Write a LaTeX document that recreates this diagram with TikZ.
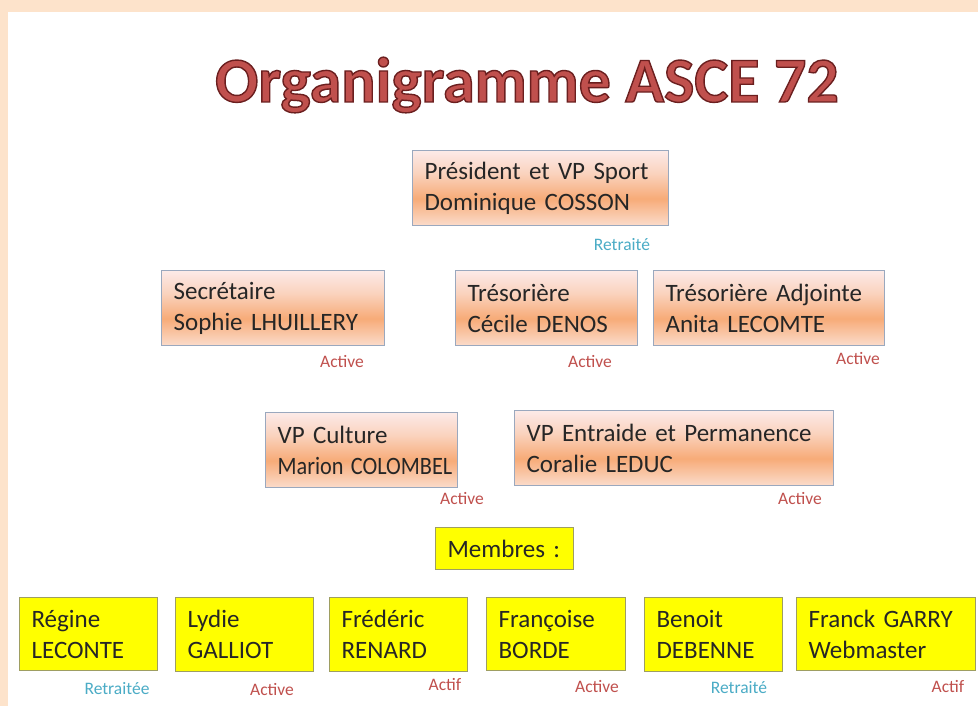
\documentclass[tikz,border=0pt]{standalone}
\usepackage{fontspec}
\setmainfont{Carlito}
\definecolor{peach}{HTML}{FDE3CB}
\definecolor{boxedge}{HTML}{9AA8BE}
\definecolor{otop}{HTML}{FCEAE8}
\definecolor{olight}{HTML}{FAD3BE}
\definecolor{omid}{HTML}{F7AB78}
\definecolor{obot}{HTML}{FBDCCB}
\definecolor{yfill}{HTML}{FFFF00}
\definecolor{yedge}{HTML}{9E9E62}
\definecolor{actred}{HTML}{C0504D}
\definecolor{retblue}{HTML}{4BACC6}
\definecolor{titlered}{HTML}{C0504D}
\pgfdeclareverticalshading{orshade}{100bp}{color(0bp)=(obot); color(25bp)=(obot); color(43bp)=(omid); color(60bp)=(olight); color(75bp)=(otop); color(100bp)=(otop)}
\newcommand{\boxfont}{\fontsize{25}{31}\selectfont}
\newcommand{\statfont}{\fontsize{17.5}{20}\selectfont}
\tikzset{
  obox/.style={draw=boxedge, line width=1.2pt, shading=orshade, anchor=north west, align=left, inner xsep=12pt, inner ysep=0pt, font=\boxfont, text=black!85},
  ybox/.style={draw=yedge, line width=1.2pt, fill=yfill, anchor=north west, align=left, inner xsep=12pt, inner ysep=0pt, font=\boxfont, text=black!85},
  act/.style={text=actred, font=\statfont},
  ret/.style={text=retblue, font=\statfont}
}
\begin{document}
\begin{tikzpicture}[x=1pt,y=-1pt]
\useasboundingbox (0,0) rectangle (978,706);
\fill[peach] (0,0) rectangle (978,706);
\fill[white] (8,12) rectangle (978,706);
% title
\node[anchor=base, font=\fontsize{64}{70}\selectfont\bfseries, text=titlered, inner sep=0pt] (title) at (527,102)
  {\special{pdf:literal direct 0.42 0.12 0.12 RG 1.4 w 2 Tr}Organigramme ASCE 72\special{pdf:literal direct 0 Tr}};
% orange boxes
\node[obox, text width=232pt, minimum height=75pt] (pres) at (412,150) {Président et VP Sport\\Dominique COSSON};
\node[ret] (spres) at (622,245) {Retraité};
\node[obox, text width=199pt, minimum height=75pt] (sec) at (161,270) {Secrétaire\\Sophie LHUILLERY};
\node[act] (ssec) at (342,362) {Active};
\node[obox, text width=158pt, minimum height=75pt] (tres) at (455,270) {Trésorière\\Cécile DENOS};
\node[act] (stres) at (590,362) {Active};
\node[obox, text width=207pt, minimum height=75pt] (tresa) at (653,270) {Trésorière Adjointe\\Anita LECOMTE};
\node[act] (stresa) at (858,359) {Active};
\node[obox, text width=168pt, minimum height=75pt] (cult) at (265,412) {VP Culture\\\scalebox{0.89}[1]{Marion COLOMBEL}};
\node[act] (scult) at (462,499) {Active};
\node[obox, text width=295pt, minimum height=75pt] (entr) at (514,410) {VP Entraide et Permanence\\Coralie LEDUC};
\node[act] (sentr) at (800,499) {Active};
% members
\node[ybox, text width=114pt, minimum height=42pt] (memb) at (435,527) {Membres :};
\node[ybox, text width=114pt, minimum height=73pt] (m1) at (19,597) {Régine\\LECONTE};
\node[ret] (s1) at (117,689) {Retraitée};
\node[ybox, text width=114pt, minimum height=74pt] (m2) at (175,597) {Lydie\\GALLIOT};
\node[act] (s2) at (272,690) {Active};
\node[ybox, text width=114pt, minimum height=74pt] (m3) at (329,597) {Frédéric\\RENARD};
\node[act] (s3) at (445,685) {Actif};
\node[ybox, text width=115pt, minimum height=73pt] (m4) at (486,597) {Françoise\\BORDE};
\node[act] (s4) at (597,687) {Active};
\node[ybox, text width=114pt, minimum height=74pt] (m5) at (644,597) {Benoit\\DEBENNE};
\node[ret] (s5) at (739,688) {Retraité};
\node[ybox, text width=155pt, minimum height=73pt] (m6) at (796,597) {Franck GARRY\\Webmaster};
\node[act] (s6) at (948,687) {Actif};
\end{tikzpicture}
\end{document}
